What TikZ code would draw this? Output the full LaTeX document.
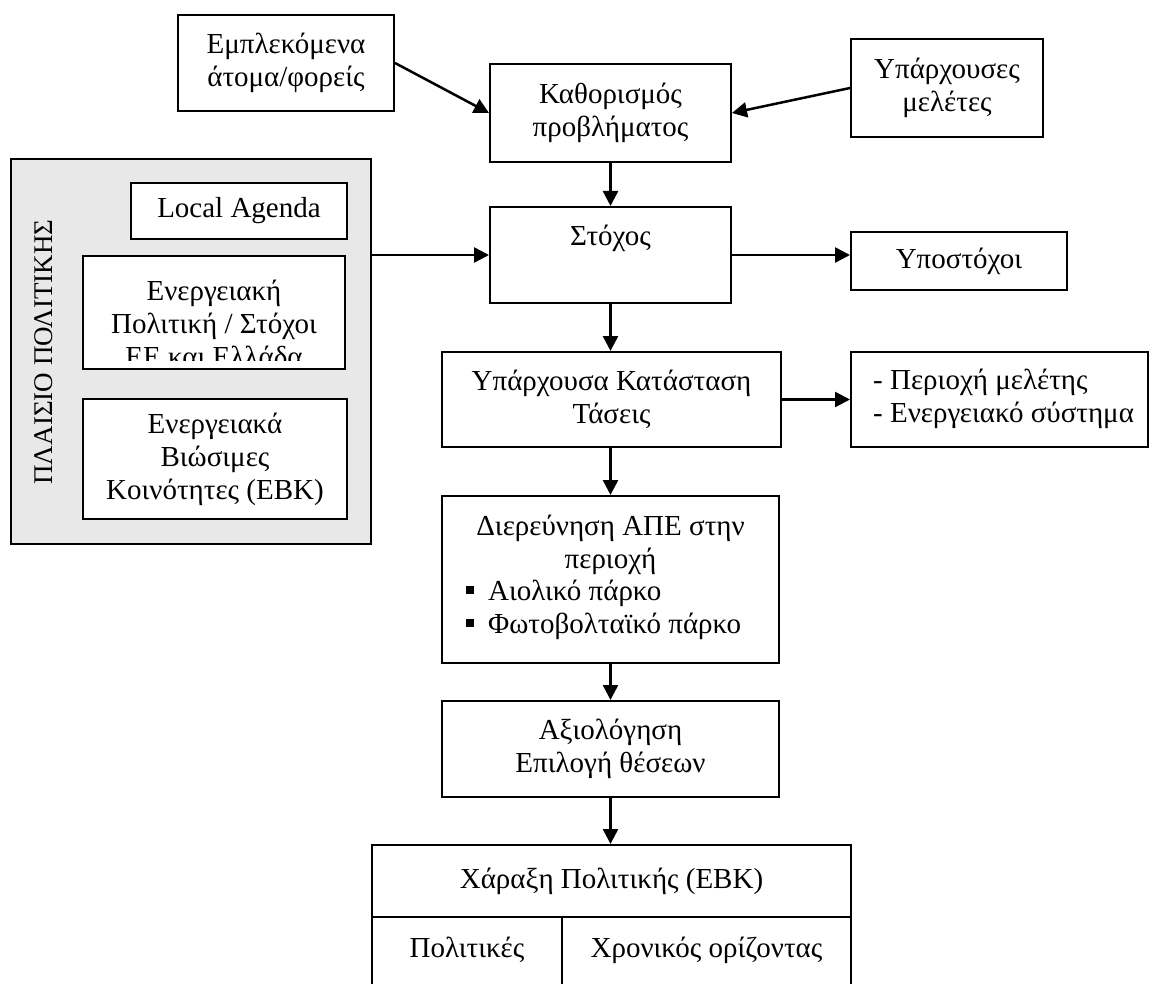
\documentclass[tikz,border=0pt]{standalone}
\usepackage{fontspec}
\setmainfont{Liberation Serif}
\usetikzlibrary{arrows.meta}
\definecolor{panelgray}{RGB}{232,232,232}
\begin{document}
\begin{tikzpicture}[x=1pt,y=-1pt,
  every node/.style={font=\fontsize{29}{33}\selectfont},
  box/.style={draw, line width=2pt, fill=white, inner sep=0pt, align=center},
  txt/.style={inner sep=0pt, align=center},
  arr/.style={line width=2.5pt, -{Triangle[length=15pt,width=15pt]}},
  bul/.style={inner sep=0pt, anchor=base west}]
\useasboundingbox (0,0) rectangle (1150,984);

% top row
\node[box, minimum width=216pt, minimum height=96pt] (emp) at (286,63) {Εμπλεκόμενα\\άτομα/φορείς};
\node[box, minimum width=241pt, minimum height=98pt] (kath) at (610.5,113) {Καθορισμός\\προβλήματος};
\node[box, minimum width=192pt, minimum height=98pt] (ypm) at (947,88) {Υπάρχουσες\\μελέτες};

% policy panel
\node[draw, line width=2pt, fill=panelgray, minimum width=360pt, minimum height=385pt, inner sep=0pt] (panel) at (191,351.5) {};
\node[txt, rotate=90, font=\fontsize{27}{31}\selectfont] (paneltxt) at (44,352) {ΠΛΑΙΣΙΟ ΠΟΛΙΤΙΚΗΣ};
\node[box, minimum width=216pt, minimum height=56pt] (local) at (239,211) {Local Agenda};
\node[box, minimum width=262pt, minimum height=113pt] (energ) at (214,312.5) {};
\begin{scope}
  \clip (84,257) rectangle (344,360);
  \node[txt] (energtxt) at (214,323) {Ενεργειακή\\Πολιτική / Στόχοι\\ΕΕ και Ελλάδα};
\end{scope}
\node[box, minimum width=264pt, minimum height=120pt] (ebk) at (215,459) {Ενεργειακά\\Βιώσιμες\\Κοινότητες (ΕΒΚ)};

% main column
\node[box, minimum width=241pt, minimum height=96pt] (stoxos) at (610.5,255) {};
\node[txt, anchor=base] (stoxostxt) at (610.5,245) {Στόχος};
\node[box, minimum width=216pt, minimum height=58pt] (ypost) at (959,261) {Υποστόχοι};
\node[box, minimum width=339pt, minimum height=95pt] (ypk) at (611.5,399.5) {Υπάρχουσα Κατάσταση\\Τάσεις};
\node[box, minimum width=297pt, minimum height=95pt] (perioxi) at (999.5,399.5) {};
\node[txt, anchor=west, align=left] (perioxitxt) at (873,399) {- Περιοχή μελέτης\\- Ενεργειακό σύστημα};

\node[box, minimum width=337pt, minimum height=167pt] (dier) at (610.5,579.5) {};
\node[txt, anchor=base] (dier1) at (610.5,535) {Διερεύνηση ΑΠΕ στην};
\node[txt, anchor=base] (dier2) at (610.5,568) {περιοχή};
\node[bul] (dier3) at (466,600) {\rule[6pt]{8pt}{8pt}\hspace{14pt}Αιολικό πάρκο};
\node[bul] (dier4) at (466,633) {\rule[6pt]{8pt}{8pt}\hspace{14pt}Φωτοβολταϊκό πάρκο};

\node[box, minimum width=337pt, minimum height=96pt] (axiol) at (610.5,749) {Αξιολόγηση\\Επιλογή θέσεων};

% bottom table
\node[box, minimum width=479pt, minimum height=72pt] (xar) at (611.5,881) {Χάραξη Πολιτικής (ΕΒΚ)};
\node[box, minimum width=190pt, minimum height=78pt] (pol) at (467,956) {};
\node[box, minimum width=289pt, minimum height=78pt] (xron) at (706.5,956) {};
\node[txt, anchor=base] (poltxt) at (467,957) {Πολιτικές};
\node[txt, anchor=base] (xrontxt) at (706.5,957) {Χρονικός ορίζοντας};

% connectors
\draw[arr] (emp.east) -- (kath.west);
\draw[arr] (ypm.west) -- (kath.east);
\draw[arr] (kath.south) -- (stoxos.north);
\draw[arr] (panel.east |- stoxos.west) -- (stoxos.west);
\draw[arr] (stoxos.east) -- (stoxos.east -| ypost.west);
\draw[arr] (stoxos.south) -- (stoxos.south |- ypk.north);
\draw[arr] (ypk.east) -- (perioxi.west);
\draw[arr] (dier.north |- ypk.south) -- (dier.north);
\draw[arr] (dier.south) -- (axiol.north);
\draw[arr] (axiol.south) -- (axiol.south |- xar.north);
\end{tikzpicture}
\end{document}
